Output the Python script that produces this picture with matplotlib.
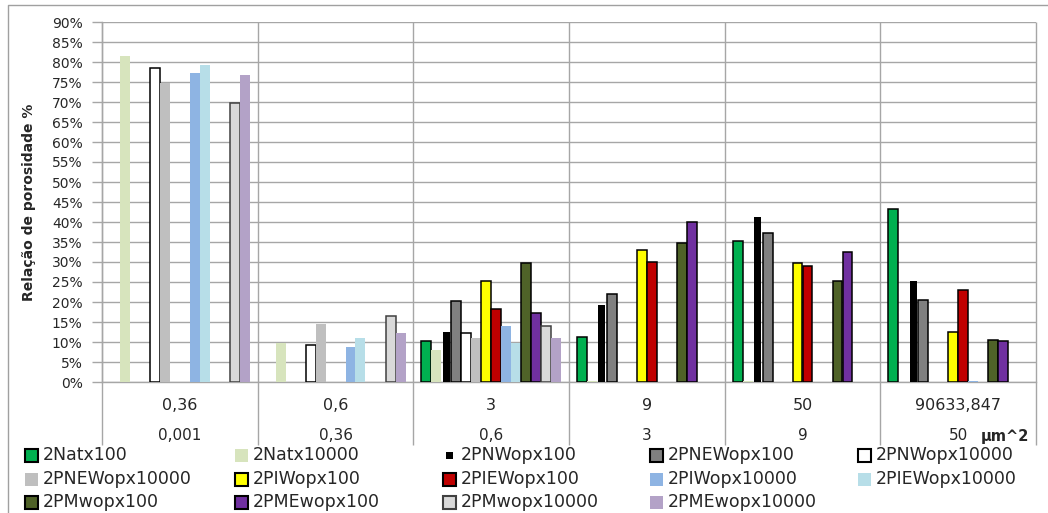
import numpy as np
import matplotlib
matplotlib.use("Agg")
import matplotlib.pyplot as plt
from matplotlib.patches import Rectangle
from matplotlib.lines import Line2D
from matplotlib.transforms import blended_transform_factory
from matplotlib.ticker import MultipleLocator, PercentFormatter

plt.rcParams['font.family'] = ['DejaVu Sans']

# Pore-size classes (upper / lower bound of each class)
size_upper = ["0,36", "0,6", "3", "9", "50", "90633,847"]
size_lower = ["0,001", "0,36", "0,6", "3", "9", "50"]

# Porosity ratio per class, in percent (0 = no bar)
natx100 = [0, 0, 10.2, 11.2, 35.3, 43.3]
natx10000 = [81.6, 9.7, 8.0, 0.3, 0.3, 0]
pnwopx100 = [0, 0, 12.5, 19.2, 41.3, 25.2]
pnewopx100 = [0, 0, 20.3, 22.1, 37.3, 20.6]
pnwopx10000 = [78.6, 9.2, 12.3, 0, 0, 0]
pnewopx10000 = [74.7, 14.5, 10.9, 0, 0, 0]
piwopx100 = [0, 0, 25.2, 33.0, 29.7, 12.4]
piewopx100 = [0, 0, 18.3, 30.1, 28.9, 23.0]
piwopx10000 = [77.2, 8.8, 14.0, 0, 0, 0.3]
piewopx10000 = [79.3, 11.1, 9.7, 0, 0, 0]
pmwopx100 = [0, 0, 29.8, 34.7, 25.3, 10.5]
pmewopx100 = [0, 0, 17.2, 39.9, 32.4, 10.3]
pmwopx10000 = [69.8, 16.6, 13.9, 0, 0, 0]
pmewopx10000 = [76.8, 12.3, 10.9, 0, 0, 0]

series_names = ["2Natx100", "2Natx10000", "2PNWopx100", "2PNEWopx100",
                "2PNWopx10000", "2PNEWopx10000", "2PIWopx100", "2PIEWopx100",
                "2PIWopx10000", "2PIEWopx10000", "2PMwopx100", "2PMEwopx100",
                "2PMwopx10000", "2PMEwopx10000"]
series_values = [natx100, natx10000, pnwopx100, pnewopx100, pnwopx10000,
                 pnewopx10000, piwopx100, piewopx100, piwopx10000,
                 piewopx10000, pmwopx100, pmewopx100, pmwopx10000,
                 pmewopx10000]

# (fill, edge) per series; edge None = no outline
styles = [
    ("#00B050", "black"), ("#D7E4BD", None), ("black", None),
    ("#808080", "black"), ("white", "black"), ("#BFBFBF", None),
    ("#FFFF00", "black"), ("#C00000", "black"), ("#8EB4E3", None),
    ("#B7DEE8", None), ("#4F6228", "black"), ("#7030A0", "black"),
    ("#D9D9D9", "#404040"), ("#B3A2C7", None),
]

W, H = 1048, 513
fig = plt.figure(figsize=(W / 100, H / 100), dpi=100)
fig.patch.set_facecolor("white")

# chart area outline (left and top edges)
fig.add_artist(Line2D([8 / W, 8 / W, 1.0], [0, 1 - 5 / H, 1 - 5 / H],
                      transform=fig.transFigure, color="#A0A0A0", lw=1.0))

left, right, top, bottom = 102, 1036, 22, 382
ax = fig.add_axes([left / W, 1 - bottom / H, (right - left) / W, (bottom - top) / H])

grid_c = "#A6A6A6"
n_series = len(series_values)
x = np.arange(len(size_upper))
bar_w = 10 / ((right - left) / len(size_upper))

for i, (vals, (fc, ec)) in enumerate(zip(series_values, styles)):
    v = np.array(vals, dtype=float) / 100.0
    m = v > 0
    w = bar_w * (0.7 if i == 2 else 1.0)
    ax.bar(x[m] + (i - (n_series - 1) / 2) * bar_w, v[m], width=w,
           color=fc, edgecolor=ec if ec else fc,
           linewidth=1.1 if ec else 0, zorder=3)

ax.set_xlim(-0.5, len(size_upper) - 0.5)
ax.set_ylim(0, 0.9)
ax.yaxis.set_major_locator(MultipleLocator(0.05))
ax.yaxis.set_major_formatter(PercentFormatter(1.0, decimals=0))
ax.grid(axis="y", color=grid_c, lw=1.0, zorder=0)
ax.set_xticks([])
ax.tick_params(axis="y", direction="out", length=7, width=1.0, color=grid_c,
               labelsize=10, labelcolor="#262626", pad=7)
for s in ("top", "right"):
    ax.spines[s].set_visible(False)
for s in ("left", "bottom"):
    ax.spines[s].set_color(grid_c)
    ax.spines[s].set_linewidth(1.0)

# category separators running down through the label rows
tr = blended_transform_factory(ax.transData, ax.transAxes)
sep_bottom = -(445 - bottom) / (bottom - top)
ax.vlines(np.arange(len(size_upper) + 1) - 0.5, sep_bottom, 1.0,
          transform=tr, colors=grid_c, lw=1.0, clip_on=False, zorder=1)

row1 = -(405 - bottom) / (bottom - top)
row2 = -(436 - bottom) / (bottom - top)
for xi, (a, b) in enumerate(zip(size_upper, size_lower)):
    ax.text(xi, row1, a, transform=tr, ha="center", va="center",
            fontsize=11.5, color="#262626")
    ax.text(xi, row2, b, transform=tr, ha="center", va="center",
            fontsize=11, color="#262626")
fig.text(1005 / W, 1 - 437 / H, "µm^2", ha="center", va="center",
         fontsize=10.5, fontweight="bold", color="#262626")

ax.set_ylabel("Relação de porosidade %", fontsize=10, fontweight="bold",
              color="#262626")
ax.yaxis.set_label_coords(-(left - 36) / (right - left), 0.5)

# legend: 5 columns, filled row by row
col_x = [25, 235, 443, 650, 858]
row_y = [455, 479, 502]
sq = 13
for k, (name, (fc, ec)) in enumerate(zip(series_names, styles)):
    r, c = divmod(k, 5)
    cx, cy = col_x[c], row_y[r]
    s = 7 if k == 2 else sq
    x0 = cx + (sq - s) / 2
    fig.add_artist(Rectangle((x0 / W, 1 - (cy + s / 2) / H), s / W, s / H,
                             transform=fig.transFigure, facecolor=fc,
                             edgecolor=ec if ec else fc,
                             linewidth=1.5 if ec else 0))
    fig.text((cx + sq + 5) / W, 1 - cy / H, name, ha="left", va="center",
             fontsize=12.5, color="#262626")

fig.savefig("out.png", dpi=100)
